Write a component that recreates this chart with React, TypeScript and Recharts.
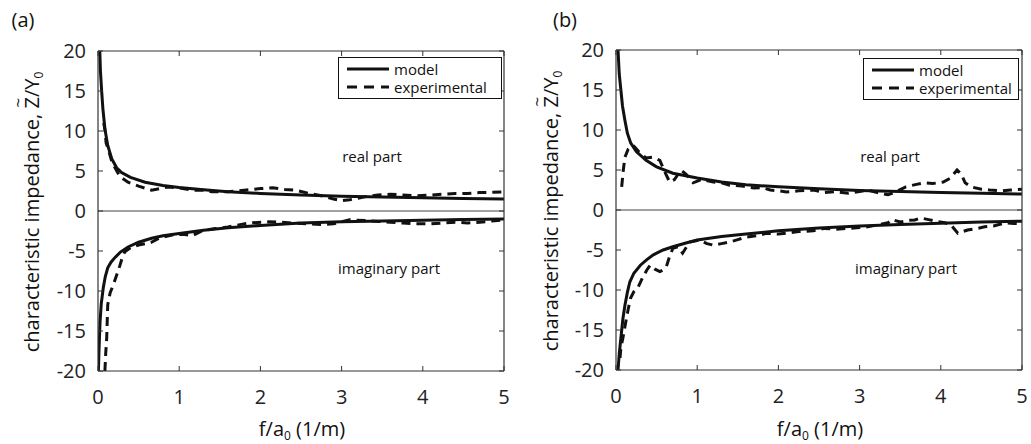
import { Line, LineChart, ReferenceLine, XAxis, YAxis } from "recharts";

// [f/a0, Z/Y0] pairs
const modelRealA = [
  [0.022, 20], [0.03, 17.5], [0.045, 15], [0.06, 12.8], [0.086, 10.2], [0.12, 8.2], [0.17, 6.5],
  [0.23, 5.4], [0.29, 4.8], [0.4, 4.2], [0.58, 3.6], [0.8, 3.2], [1.0, 2.95], [1.3, 2.65], [1.6, 2.4],
  [2.0, 2.2], [2.5, 2.0], [3.0, 1.85], [3.5, 1.75], [4.0, 1.65], [4.5, 1.57], [5.0, 1.5],
];
const expRealA = [
  [0.07, 11], [0.085, 10.2], [0.1, 8.5], [0.13, 7.6], [0.17, 6.2], [0.21, 5.4], [0.27, 4.3], [0.37, 3.6],
  [0.5, 3.1], [0.66, 2.6], [0.76, 2.8], [0.86, 3.0], [1.0, 2.9], [1.16, 2.6], [1.3, 2.6], [1.4, 2.4],
  [1.6, 2.4], [1.8, 2.6], [2.0, 2.8], [2.15, 2.9], [2.3, 2.7], [2.43, 2.6], [2.6, 2.2], [2.75, 1.9],
  [2.9, 1.5], [3.0, 1.3], [3.1, 1.4], [3.3, 1.8], [3.45, 2.0], [3.6, 2.1], [3.75, 2.0], [3.9, 1.9],
  [4.1, 2.0], [4.25, 2.1], [4.4, 2.2], [4.55, 2.2], [4.7, 2.3], [4.85, 2.35], [5.0, 2.4],
];
const modelImagA = [
  [0.005, -20], [0.012, -17.5], [0.025, -13.9], [0.04, -11.6], [0.065, -9.6], [0.09, -8.2], [0.12, -7.1],
  [0.16, -6.4], [0.21, -5.8], [0.28, -5.1], [0.37, -4.5], [0.5, -3.9], [0.66, -3.4], [0.8, -3.1],
  [1.0, -2.8], [1.3, -2.4], [1.6, -2.1], [2.0, -1.8], [2.5, -1.5], [3.0, -1.35], [3.5, -1.25],
  [4.0, -1.15], [4.5, -1.05], [5.0, -1.0],
];
const expImagA = [
  [0.085, -20], [0.095, -17.8], [0.107, -15.9], [0.12, -11.7], [0.15, -10.2], [0.19, -9.2], [0.23, -8.0],
  [0.27, -6.8], [0.3, -5.8], [0.33, -5.1], [0.4, -4.6], [0.5, -4.25], [0.58, -4.1], [0.66, -3.9],
  [0.75, -3.4], [0.91, -3.0], [1.05, -2.9], [1.16, -3.1], [1.3, -2.4], [1.45, -2.2], [1.6, -2.0],
  [1.75, -1.7], [1.85, -1.5], [2.1, -1.35], [2.25, -1.4], [2.4, -1.5], [2.6, -1.6], [2.75, -1.7],
  [2.9, -1.6], [3.1, -1.1], [3.3, -1.2], [3.45, -1.3], [3.6, -1.4], [3.75, -1.5], [3.9, -1.6],
  [4.1, -1.6], [4.25, -1.5], [4.4, -1.4], [4.55, -1.5], [4.7, -1.4], [4.85, -1.25], [5.0, -1.1],
];

const modelRealB = [
  [0.025, 20], [0.04, 17], [0.06, 15], [0.08, 13], [0.11, 11.2], [0.14, 9.6], [0.18, 8.4], [0.25, 7.3],
  [0.37, 6.2], [0.5, 5.4], [0.7, 4.6], [1.0, 4.0], [1.3, 3.5], [1.6, 3.15], [2.0, 2.9], [2.5, 2.65],
  [3.0, 2.45], [3.5, 2.3], [4.0, 2.2], [4.5, 2.1], [5.0, 2.0],
];
const expRealB = [
  [0.07, 2.9], [0.09, 5.0], [0.11, 6.6], [0.15, 7.6], [0.21, 8.1], [0.28, 7.3], [0.37, 6.5], [0.45, 6.6],
  [0.54, 6.2], [0.6, 4.8], [0.66, 3.5], [0.72, 3.8], [0.8, 5.0], [0.87, 4.4], [0.95, 3.4], [1.05, 3.8],
  [1.2, 3.5], [1.3, 3.4], [1.4, 3.1], [1.55, 3.0], [1.7, 2.75], [1.8, 2.8], [1.9, 2.5], [2.0, 2.4],
  [2.1, 2.25], [2.25, 2.4], [2.43, 2.5], [2.57, 2.2], [2.7, 2.3], [2.86, 2.1], [3.0, 2.3], [3.1, 2.5],
  [3.25, 2.1], [3.35, 1.9], [3.45, 2.3], [3.57, 2.9], [3.7, 3.2], [3.8, 3.4], [3.9, 3.3], [4.03, 3.5],
  [4.12, 4.0], [4.2, 5.0], [4.25, 4.5], [4.3, 3.4], [4.37, 2.9], [4.5, 2.6], [4.6, 2.5], [4.75, 2.4],
  [4.86, 2.5], [5.0, 2.6],
];
const modelImagB = [
  [0.025, -20], [0.04, -18], [0.06, -16], [0.085, -13.6], [0.11, -11.9], [0.14, -10.3], [0.17, -9.0],
  [0.22, -7.9], [0.3, -6.9], [0.38, -6.2], [0.46, -5.6], [0.58, -5.0], [0.7, -4.6], [0.85, -4.15],
  [1.0, -3.75], [1.3, -3.3], [1.6, -3.0], [2.0, -2.6], [2.5, -2.25], [3.0, -2.0], [3.5, -1.8],
  [4.0, -1.65], [4.5, -1.5], [5.0, -1.4],
];
const expImagB = [
  [0.05, -18.5], [0.06, -17.2], [0.085, -16], [0.12, -14], [0.15, -12.4], [0.18, -11], [0.22, -10.2],
  [0.27, -9.7], [0.33, -8.4], [0.38, -7.5], [0.42, -6.9], [0.48, -7.4], [0.54, -7.7], [0.58, -7.5],
  [0.62, -7.1], [0.66, -5.8], [0.7, -4.8], [0.76, -4.6], [0.82, -5.4], [0.87, -4.6], [0.91, -4.0],
  [1.03, -3.75], [1.12, -4.2], [1.2, -4.4], [1.3, -4.2], [1.4, -4.0], [1.5, -3.7], [1.6, -3.4],
  [1.75, -3.2], [1.85, -2.9], [2.0, -3.0], [2.1, -2.9], [2.25, -2.7], [2.43, -2.6], [2.57, -2.3],
  [2.7, -2.4], [2.86, -2.3], [3.0, -2.2], [3.1, -2.1], [3.25, -1.8], [3.35, -1.6], [3.4, -1.2],
  [3.5, -1.5], [3.6, -1.3], [3.68, -1.25], [3.75, -1.0], [3.85, -1.2], [3.93, -1.4], [4.05, -1.6],
  [4.12, -1.8], [4.21, -2.9], [4.33, -2.5], [4.45, -2.3], [4.54, -2.1], [4.65, -2.0], [4.8, -1.6],
  [4.9, -1.7], [5.0, -1.7],
];

const xTicks = [0, 1, 2, 3, 4, 5];
const yTicks = [-20, -15, -10, -5, 0, 5, 10, 15, 20];

const FONT = '"Open Sans", "DejaVu Sans", sans-serif';
const INK = "#111";
const TICK_LEN = 5;
const X_AXIS_H = 30;

const pts = (rows: number[][]) => rows.map(([f, v]) => ({ f, v }));

type Box = { top: number; bottom: number; left: number; right: number };

type PanelProps = {
  tag: string;
  left: number;
  width: number;
  margin: { top: number; right: number; bottom: number; left: number };
  yAxisWidth: number;
  series: { real: number[][]; imag: number[][]; expReal: number[][]; expImag: number[][] };
  yLabel: { x: number; y: number };
  xLabel: { x: number; y: number };
  legend: { x: number; y: number; w: number; h: number };
  realText: { x: number; y: number };
  imagText: { x: number; y: number };
  tagPos: { x: number; y: number };
};

// tick label outside, plus matlab-style inward marks on both sides of the box
function makeXTick(box: Box) {
  return (props: any) => {
    const { x, y, payload } = props;
    return (
      <g>
        <line x1={x} x2={x} y1={box.bottom} y2={box.bottom - TICK_LEN} stroke="#333" />
        <line x1={x} x2={x} y1={box.top} y2={box.top + TICK_LEN} stroke="#333" />
        <text x={x} y={y} dy="0.72em" textAnchor="middle" fill="#222" fontSize={20} fontFamily={FONT}>
          {payload.value}
        </text>
      </g>
    );
  };
}

function makeYTick(box: Box) {
  return (props: any) => {
    const { x, y, payload } = props;
    return (
      <g>
        <line x1={box.left} x2={box.left + TICK_LEN} y1={y} y2={y} stroke="#333" />
        <line x1={box.right} x2={box.right - TICK_LEN} y1={y} y2={y} stroke="#333" />
        <text x={x} y={y} dy="0.36em" textAnchor="end" fill="#222" fontSize={20} fontFamily={FONT}>
          {payload.value}
        </text>
      </g>
    );
  };
}

function Legend({ x, y, w, h }: { x: number; y: number; w: number; h: number }) {
  const row = (dash: boolean, text: string) => (
    <div style={{ display: "flex", alignItems: "center", height: 18 }}>
      <svg width={42} height={6} style={{ marginRight: 5, flex: "none" }}>
        <line x1={0} y1={3} x2={42} y2={3} stroke={INK} strokeWidth={3} strokeDasharray={dash ? "10 7" : undefined} />
      </svg>
      <span style={{ lineHeight: "18px" }}>{text}</span>
    </div>
  );
  return (
    <div
      style={{
        position: "absolute", left: x, top: y, width: w, height: h, boxSizing: "border-box",
        border: `1px solid ${INK}`, background: "#fff", fontSize: 15, color: INK,
        padding: "2px 0 0 8px",
      }}
    >
      {row(false, "model")}
      {row(true, "experimental")}
    </div>
  );
}

function Panel(p: PanelProps) {
  const frame = { stroke: "#333", strokeWidth: 1.2 };
  const box: Box = {
    top: p.margin.top,
    bottom: 444 - p.margin.bottom - X_AXIS_H,
    left: p.margin.left + p.yAxisWidth,
    right: p.width - p.margin.right,
  };
  return (
    <div style={{ position: "absolute", left: p.left, top: 0, width: p.width, height: 444 }}>
      <LineChart width={p.width} height={444} margin={p.margin}>
        <XAxis
          xAxisId="x"
          type="number"
          dataKey="f"
          domain={[0, 5]}
          ticks={xTicks}
          allowDataOverflow
          height={X_AXIS_H}
          tickLine={false}
          tickSize={6}
          tickMargin={13}
          tick={makeXTick(box)}
          axisLine={frame}
        />
        <XAxis xAxisId="xt" type="number" dataKey="f" domain={[0, 5]} allowDataOverflow orientation="top" mirror tick={false} tickLine={false} axisLine={frame} />
        <YAxis
          yAxisId="y"
          type="number"
          domain={[-20, 20]}
          ticks={yTicks}
          allowDataOverflow
          width={p.yAxisWidth}
          tickLine={false}
          tickSize={6}
          tickMargin={6}
          tick={makeYTick(box)}
          axisLine={frame}
        />
        <YAxis yAxisId="yr" type="number" domain={[-20, 20]} allowDataOverflow orientation="right" mirror tick={false} tickLine={false} axisLine={frame} />
        <ReferenceLine xAxisId="x" yAxisId="y" y={0} stroke="#444" strokeWidth={1} />
        <Line xAxisId="x" yAxisId="y" data={pts(p.series.real)} dataKey="v" type="linear" stroke={INK} strokeWidth={3} dot={false} isAnimationActive={false} />
        <Line xAxisId="x" yAxisId="y" data={pts(p.series.imag)} dataKey="v" type="linear" stroke={INK} strokeWidth={3} dot={false} isAnimationActive={false} />
        <Line xAxisId="x" yAxisId="y" data={pts(p.series.expReal)} dataKey="v" type="linear" stroke={INK} strokeWidth={3} strokeDasharray="9 6" dot={false} isAnimationActive={false} />
        <Line xAxisId="x" yAxisId="y" data={pts(p.series.expImag)} dataKey="v" type="linear" stroke={INK} strokeWidth={3} strokeDasharray="9 6" dot={false} isAnimationActive={false} />
      </LineChart>
    </div>
  );
}

function Texts(p: PanelProps) {
  const abs = (x: number, y: number, size: number) => ({
    position: "absolute" as const, left: x, top: y, transform: "translate(-50%, -50%)",
    whiteSpace: "nowrap" as const, fontSize: size, color: INK, lineHeight: "normal",
  });
  return (
    <>
      <div style={{ ...abs(p.tagPos.x, p.tagPos.y, 20) }}>{p.tag}</div>
      <div style={{ ...abs(p.yLabel.x, p.yLabel.y, 20), transform: "translate(-50%, -50%) rotate(-90deg)" }}>
        characteristic impedance,{" "}
        <span style={{ position: "relative", display: "inline-block" }}>
          Z
          <span style={{ position: "absolute", left: 1, top: -12, fontSize: 17 }}>~</span>
        </span>
        /Y<span style={{ fontSize: 12, verticalAlign: "-4px" }}>0</span>
      </div>
      <div style={abs(p.xLabel.x, p.xLabel.y, 20)}>
        f/a<span style={{ fontSize: 12, verticalAlign: "-4px" }}>0</span> (1/m)
      </div>
      <div style={abs(p.realText.x, p.realText.y, 15)}>real part</div>
      <div style={abs(p.imagText.x, p.imagText.y, 15)}>imaginary part</div>
      <Legend {...p.legend} />
    </>
  );
}

const panelA: PanelProps = {
  tag: "(a)",
  left: 0,
  width: 515,
  margin: { top: 51, right: 11, bottom: 43, left: 0 },
  yAxisWidth: 98,
  series: { real: modelRealA, imag: modelImagA, expReal: expRealA, expImag: expImagA },
  yLabel: { x: 32, y: 212 },
  xLabel: { x: 302, y: 429 },
  legend: { x: 338, y: 57, w: 164, h: 42 },
  realText: { x: 372, y: 156 },
  imagText: { x: 389, y: 268 },
  tagPos: { x: 23, y: 19 },
};

const panelB: PanelProps = {
  tag: "(b)",
  left: 515,
  width: 516,
  margin: { top: 50, right: 9, bottom: 44, left: 0 },
  yAxisWidth: 101,
  series: { real: modelRealB, imag: modelImagB, expReal: expRealB, expImag: expImagB },
  yLabel: { x: 551, y: 211 },
  xLabel: { x: 820, y: 429 },
  legend: { x: 863, y: 58, w: 156, h: 42 },
  realText: { x: 890, y: 156 },
  imagText: { x: 906, y: 268 },
  tagPos: { x: 565, y: 19 },
};

export default function App() {
  return (
    <div
      style={{
        position: "absolute", left: 0, top: 0, width: 1031, height: 444,
        background: "#fff", fontFamily: FONT, overflow: "hidden",
      }}
    >
      <Panel {...panelA} />
      <Panel {...panelB} />
      <Texts {...panelA} />
      <Texts {...panelB} />
    </div>
  );
}
